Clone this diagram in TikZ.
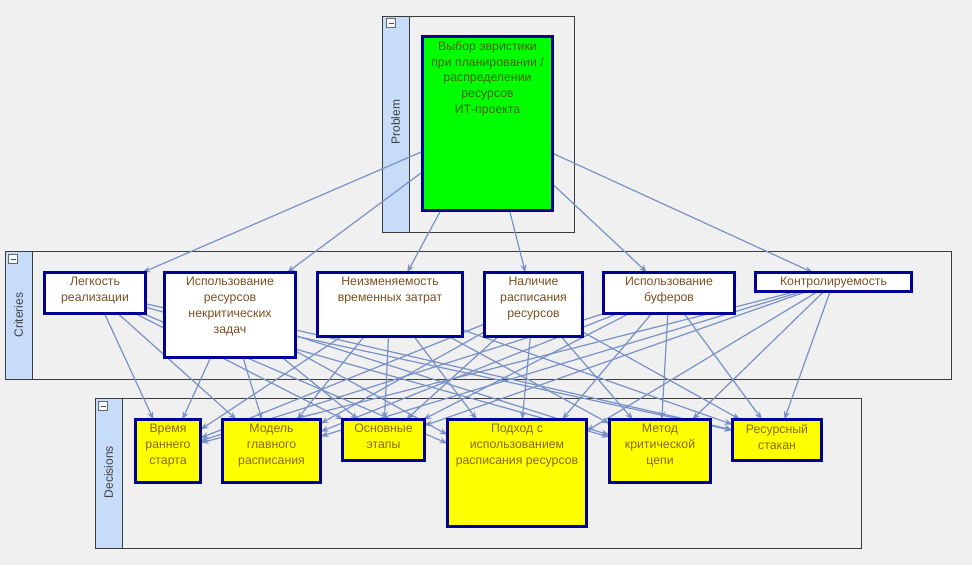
\documentclass[tikz,border=0pt]{standalone}
\usepackage{fontspec}
\setmainfont{Liberation Sans}
\usetikzlibrary{arrows.meta}
\definecolor{bgc}{RGB}{240,240,240}
\definecolor{stripc}{RGB}{198,220,248}
\definecolor{framec}{RGB}{60,60,60}
\definecolor{navy}{RGB}{0,0,150}
\definecolor{edgec}{RGB}{120,145,198}
\definecolor{txtc}{RGB}{125,80,35}
\definecolor{txtg}{RGB}{70,100,0}
\definecolor{txty}{RGB}{135,105,0}
\definecolor{boxgreen}{RGB}{0,255,0}
\definecolor{boxyellow}{RGB}{255,255,0}
\pgfdeclarelayer{bg}
\pgfdeclarelayer{edges}
\pgfsetlayers{bg,edges,main}
\tikzset{
  bx/.style={draw=navy, line width=3pt, inner sep=0pt, outer sep=0pt},
  cbox/.style={bx, fill=white},
  gbox/.style={bx, fill=boxgreen},
  ybox/.style={bx, fill=boxyellow},
  txt/.style={anchor=north, align=center, inner sep=0pt, text=txtc,
    font=\fontsize{12.3}{15.8}\selectfont, yshift=-4.5pt},
  edge/.style={draw=edgec, line width=1.2pt, -{Stealth[length=8pt,width=6pt]}},
  panel/.style={draw=framec, line width=1pt, fill=bgc},
  strip/.style={draw=framec, line width=1pt, fill=stripc},
  striplbl/.style={rotate=90, text=black!75, font=\fontsize{12}{14}\selectfont, inner sep=0pt},
  minus/.style={draw=black!60, fill=white!85!stripc, minimum size=8.5pt, inner sep=0pt, line width=0.7pt}
}
\begin{document}
\begin{tikzpicture}[x=1pt,y=-1pt]
\useasboundingbox (0,0) rectangle (972,565);
\begin{pgfonlayer}{bg}
  \fill[bgc] (0,0) rectangle (972,565);
  % Problem panel
  \draw[panel] (382,16) rectangle (574,232);
  \draw[strip] (382,16) rectangle (409,232);
  \node[striplbl] (lp) at (395.5,122) {Problem};
  \node[minus] (mp) at (391,23) {};
  \draw[black!70, line width=0.9pt] (388.5,23) -- (393.5,23);
  % Criteria panel
  \draw[panel] (5,251) rectangle (951,379);
  \draw[strip] (5,251) rectangle (32,379);
  \node[striplbl] (lc) at (18.5,315) {Criteries};
  \node[minus] (mc) at (13,259) {};
  \draw[black!70, line width=0.9pt] (10.5,259) -- (15.5,259);
  % Decisions panel
  \draw[panel] (95,398) rectangle (861,548);
  \draw[strip] (95,398) rectangle (122,548);
  \node[striplbl] (ld) at (108.5,472) {Decisions};
  \node[minus] (md) at (103,406) {};
  \draw[black!70, line width=0.9pt] (100.5,406) -- (105.5,406);
\end{pgfonlayer}

% Goal
\node[gbox, minimum width=130pt, minimum height=174pt] (g) at (487.5,123.5) {};
\node[txt, text=txtg] (tg) at (g.north) {Выбор эвристики\\при планировании /\\распределении\\ресурсов\\ИТ-проекта};

% Criteria
\node[cbox, minimum width=101pt, minimum height=41pt] (c1) at (95,293) {};
\node[cbox, minimum width=131pt, minimum height=85pt] (c2) at (230,315) {};
\node[cbox, minimum width=145pt, minimum height=64pt] (c3) at (390,304.5) {};
\node[cbox, minimum width=98pt, minimum height=64pt] (c4) at (533.5,304.5) {};
\node[cbox, minimum width=131pt, minimum height=41pt] (c5) at (669,293) {};
\node[cbox, minimum width=156pt, minimum height=19pt] (c6) at (833.5,282) {};
\node[txt] (t1) at (c1.north) {Легкость\\реализации};
\node[txt] (t2) at (c2.north) {Использование\\ресурсов\\некритических\\задач};
\node[txt] (t3) at (c3.north) {Неизменяемость\\временных затрат};
\node[txt] (t4) at (c4.north) {Наличие\\расписания\\ресурсов};
\node[txt] (t5) at (c5.north) {Использование\\буферов};
\node[txt] (t6) at (c6.north) {Контролируемость};

% Decisions
\node[ybox, minimum width=65pt, minimum height=63pt] (d1) at (168,451) {};
\node[ybox, minimum width=98pt, minimum height=63pt] (d2) at (271.5,451) {};
\node[ybox, minimum width=82pt, minimum height=41pt] (d3) at (383.5,440) {};
\node[ybox, minimum width=139pt, minimum height=107pt] (d4) at (517,473) {};
\node[ybox, minimum width=101pt, minimum height=63pt] (d5) at (660,451) {};
\node[ybox, minimum width=89pt, minimum height=41pt] (d6) at (777,440) {};
\node[txt, text=txty] (s1) at (d1.north) {Время\\раннего\\старта};
\node[txt, text=txty] (s2) at (d2.north) {Модель\\главного\\расписания};
\node[txt, text=txty] (s3) at (d3.north) {Основные\\этапы};
\node[txt, text=txty] (s4) at (d4.north) {Подход с\\использованием\\расписания ресурсов};
\node[txt, text=txty] (s5) at (d5.north) {Метод\\критической\\цепи};
\node[txt, text=txty] (s6) at (d6.north) {Ресурсный\\стакан};

\begin{pgfonlayer}{edges}
  \foreach \c in {c1,c2,c3,c4,c5,c6} {
    \draw[edge] (g) -- (\c);
    \foreach \d in {d1,d2,d3,d4,d5,d6} {
      \draw[edge] (\c) -- (\d);
    }
  }
\end{pgfonlayer}
\end{tikzpicture}
\end{document}
